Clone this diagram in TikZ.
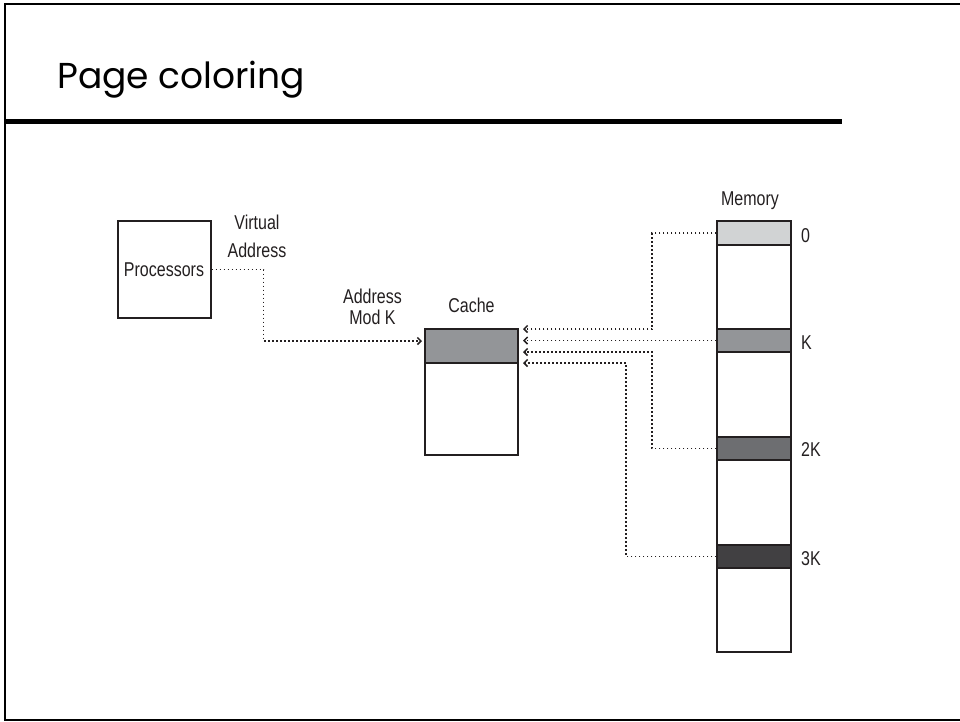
\documentclass[tikz,border=0pt]{standalone}
\usepackage{fontspec}
\setmainfont{Liberation Sans}
\newfontfamily\lblfont[FakeStretch=0.8]{Liberation Sans}
\newfontfamily\titlefont{Poppins}
\usetikzlibrary{arrows.meta}
\definecolor{ink}{HTML}{231F20}
\definecolor{cZero}{HTML}{D1D3D4}
\definecolor{cK}{HTML}{939598}
\definecolor{cTwoK}{HTML}{6D6E71}
\definecolor{cThreeK}{HTML}{414042}
\begin{document}
\begin{tikzpicture}[x=1pt,y=-1pt,
  lbl/.style={font=\lblfont\fontsize{20}{21}\selectfont, inner sep=0pt, text=ink},
  box/.style={draw=ink, line width=2pt, fill=white, inner sep=0pt},
  band/.style={draw=ink, line width=1.3pt, inner sep=0pt},
  conn/.style={line width=1.8pt, dash pattern=on 1.8pt off 2.2pt, draw=ink},
  tip/.style={-{Straight Barb[length=3.5pt,width=7pt,line width=1.5pt]}}
]
\useasboundingbox (0,0) rectangle (960,721);
% frame
\draw[line width=2pt] (960,4) -- (5,4) -- (5,720) -- (960,720);
% title
\node[anchor=base west, font=\titlefont\fontsize{36}{40}\selectfont, inner sep=0pt] (title) at (57,88) {Page coloring};
\draw[line width=5pt] (5,121.5) -- (842,121.5);

% processors
\node[box, lbl, minimum width=93pt, minimum height=97pt] (proc) at (164,269.5) {Processors};
\node[lbl, align=center, anchor=base] (va) at (257,257) {Virtual\\[7pt]Address};

% cache
\node[lbl, anchor=base] (cachelbl) at (471.5,312) {Cache};
\node[box, minimum width=93pt, minimum height=126pt] (cache) at (471.5,392) {};
\node[band, fill=cK, minimum width=93pt, minimum height=34pt] (cb) at (471.5,346) {};
\node[lbl, align=center, anchor=base] (amk) at (372.5,324) {Address\\Mod K};

% memory
\node[lbl, anchor=base] (memlbl) at (750,205) {Memory};
\node[box, minimum width=74pt, minimum height=431pt] (mem) at (754,436.5) {};
\node[band, fill=cZero, minimum width=74pt, minimum height=24pt] (m0) at (754,233) {};
\node[band, fill=cK, minimum width=74pt, minimum height=23pt] (mK) at (754,340.5) {};
\node[band, fill=cTwoK, minimum width=74pt, minimum height=23pt] (m2) at (754,448.5) {};
\node[band, fill=cThreeK, minimum width=74pt, minimum height=23pt] (m3) at (754,556.5) {};
\node[lbl, anchor=base west] (l0) at (801,242) {0};
\node[lbl, anchor=base west] (lK) at (801,349) {K};
\node[lbl, anchor=base west] (l2) at (801,456) {2K};
\node[lbl, anchor=base west] (l3) at (801,565) {3K};

% arrow targets
\coordinate (cin) at (422,341);
\coordinate (r1) at (523,329);
\coordinate (r2) at (523,340.5);
\coordinate (r3) at (523,352);
\coordinate (r4) at (523,363);

% connectors
\draw[conn, tip] (proc.east) -- ++(52,0) |- (cin);
\draw[conn, tip] (m0.west) -- ++(-64,0) |- (r1);
\draw[conn, tip] (mK.west) -- (r2);
\draw[conn, tip] (m2.west) -- ++(-64,0) |- (r3);
\draw[conn, tip] (m3.west) -- ++(-90,0) |- (r4);
\end{tikzpicture}
\end{document}
